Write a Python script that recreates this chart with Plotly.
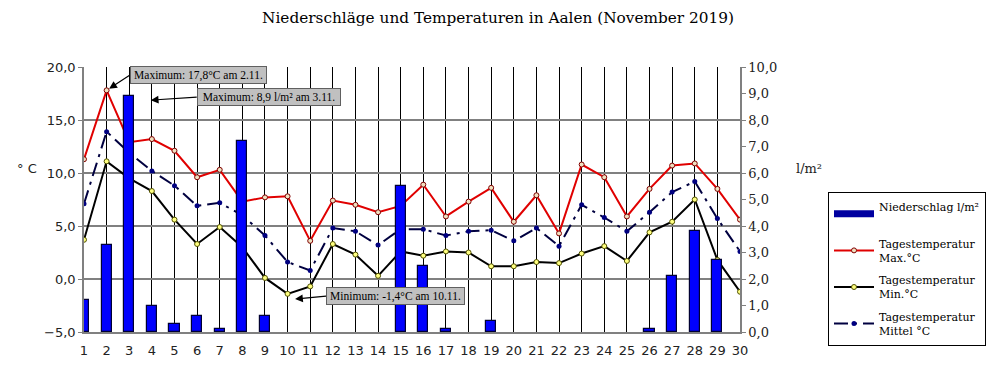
import plotly.graph_objects as go

days = list(range(1, 31))
day_labels = [str(d) for d in days]

niederschlag = [1.2, 3.3, 8.9, 1.0, 0.3, 0.6, 0.1, 7.2, 0.6, 0.0,
                0.0, 0.0, 0.0, 0.0, 5.5, 2.5, 0.1, 0.0, 0.4, 0.0,
                0.0, 0.0, 0.0, 0.0, 0.0, 0.1, 2.1, 3.8, 2.7, 0.0]
t_max = [11.3, 17.8, 12.9, 13.2, 12.1, 9.6, 10.3, 7.3, 7.7, 7.8,
         3.6, 7.4, 7.0, 6.3, 6.9, 8.9, 5.9, 7.3, 8.6, 5.4,
         7.9, 4.3, 10.8, 9.6, 5.9, 8.5, 10.7, 10.9, 8.5, 5.6]
t_min = [3.7, 11.1, 9.5, 8.3, 5.6, 3.3, 4.9, 3.0, 0.1, -1.4,
         -0.7, 3.3, 2.3, 0.3, 2.6, 2.2, 2.6, 2.5, 1.2, 1.2,
         1.6, 1.5, 2.4, 3.1, 1.7, 4.4, 5.4, 7.5, 1.8, -1.2]
t_mittel = [7.1, 13.9, 11.9, 10.2, 8.8, 6.9, 7.2, 6.0, 4.1, 1.6,
            0.8, 4.8, 4.5, 3.2, 4.7, 4.7, 4.1, 4.5, 4.6, 3.6,
            4.8, 3.1, 7.0, 5.8, 4.5, 6.3, 8.2, 9.2, 5.7, 2.6]

temp_ticks = [-5, 0, 5, 10, 15, 20]
rain_ticks = [0, 1, 2, 3, 4, 5, 6, 7, 8, 9, 10]

SERIF = "DejaVu Serif"
SANS = "DejaVu Sans"
NARROW_SERIF = "Liberation Serif"

# page body has an 8px margin: shrink figure so the plot lands at the same screen spot
OFF = 8
W, H = 1000 - OFF, 379 - OFF
PL, PT, PR, PB = 84, 67, 740, 332  # plot area in screen px


def px_x(sx):
    return (sx - PL) / (PR - PL)


def px_y(sy):
    return (PB - sy) / (PB - PT)


fig = go.Figure()

fig.add_trace(go.Bar(
    x=days, y=niederschlag, yaxis="y2", name="Niederschlag l/m²",
    width=0.45,
    marker=dict(color="#0000ff",
                line=dict(color="#000033", width=[1.2 if v > 0 else 0 for v in niederschlag])),
    showlegend=False,
))
# legend entry for precipitation (wide bar swatch as in the original)
fig.add_trace(go.Scatter(
    x=[None], y=[None], yaxis="y2", mode="lines", name="Niederschlag l/m²<br>\u00a0",
    line=dict(color="#0000a0", width=7), legendgroup="a", hoverinfo="skip",
))
fig.add_trace(go.Scatter(
    x=days, y=t_max, name="Tagestemperatur<br>Max.°C", mode="lines+markers",
    line=dict(color="#e00000", width=2),
    marker=dict(symbol="circle", size=5, color="#f0e0c0", line=dict(color="#800000", width=1)),
    legendgroup="b",
))
fig.add_trace(go.Scatter(
    x=days, y=t_min, name="Tagestemperatur<br>Min.°C", mode="lines+markers",
    line=dict(color="#000000", width=2),
    marker=dict(symbol="circle", size=5, color="#ffff80", line=dict(color="#505000", width=1)),
    legendgroup="c",
))
fig.add_trace(go.Scatter(
    x=days, y=t_mittel, name="Tagestemperatur<br>Mittel °C", mode="lines+markers",
    line=dict(color="#000040", width=2, dash="14px,6px,3px,6px"),
    marker=dict(symbol="circle", size=5, color="#000080"),
    legendgroup="d",
))

fig.update_layout(
    width=W, height=H,
    margin=dict(l=PL - OFF, r=W - (PR - OFF), t=PT - OFF, b=H - (PB - OFF)),
    paper_bgcolor="white", plot_bgcolor="white",
    separators=",.",
    showlegend=True,
    title=dict(text="Niederschläge und Temperaturen in Aalen (November 2019)",
               x=(498 - OFF) / W, xanchor="center", y=1 - (18 - OFF) / H, yanchor="middle",
               font=dict(family=SERIF, size=15.3, color="#000000")),
    legend=dict(x=px_x(828), y=px_y(192), xanchor="left", yanchor="top",
                bordercolor="#000000", borderwidth=1, bgcolor="white",
                font=dict(family=SERIF, size=11, color="#000000"),
                tracegroupgap=5, traceorder="grouped", itemwidth=40),
    xaxis=dict(range=[1, 30], tickvals=days, ticktext=day_labels,
               showgrid=True, gridcolor="#000000", gridwidth=1,
               showline=True, linecolor="#808080", linewidth=1.5,
               ticks="", ticklabelstandoff=6,
               tickfont=dict(family=SANS, size=13, color="#222222"),
               zeroline=False),
    yaxis=dict(range=[-5, 20], tickvals=temp_ticks, tickformat=".1f",
               showgrid=True, gridcolor="#808080", gridwidth=1.5,
               showline=True, linecolor="#808080", linewidth=1.5,
               ticks="outside", ticklen=4, tickcolor="#808080",
               tickfont=dict(family=SANS, size=13, color="#222222"),
               zeroline=False),
    yaxis2=dict(range=[0, 10], tickvals=rain_ticks, tickformat=".1f",
                overlaying="y", side="right", showgrid=False,
                showline=True, linecolor="#808080", linewidth=1.5,
                ticks="outside", ticklen=4, tickcolor="#808080",
                tickfont=dict(family=SERIF, size=13, color="#222222"),
                zeroline=False),
    bargap=0,
)

ann_font = dict(family=NARROW_SERIF, size=11.5, color="#000000")
common = dict(showarrow=True, arrowhead=2, arrowsize=1.3, arrowwidth=1.2,
              arrowcolor="#000000", xanchor="left", yanchor="middle",
              bgcolor="#c0c0c0", bordercolor="#606060", borderwidth=1,
              borderpad=2, height=12, font=ann_font)
fig.add_annotation(x=2, y=17.8, xref="x", yref="y", ax=23, ay=-15,
                   text="Maximum: 17,8°C am 2.11.", width=131, standoff=3, **common)
fig.add_annotation(x=3.95, y=8.75, xref="x", yref="y2", ax=46, ay=-3,
                   text="Maximum: 8,9 l/m² am 3.11.", width=138, **common)
fig.add_annotation(x=10.33, y=-1.89, xref="x", yref="y", ax=31, ay=-3,
                   text="Minimum: -1,4°C am 10.11.", width=133, **common)

fig.add_annotation(x=px_x(27), y=px_y(168), xref="paper", yref="paper",
                   text="° C", showarrow=False, xanchor="center", yanchor="middle",
                   font=dict(family=SANS, size=13, color="#222222"))
fig.add_annotation(x=px_x(809), y=px_y(168), xref="paper", yref="paper",
                   text="l/m²", showarrow=False, xanchor="center", yanchor="middle",
                   font=dict(family=SERIF, size=13, color="#222222"))

fig.write_html("out.html")
